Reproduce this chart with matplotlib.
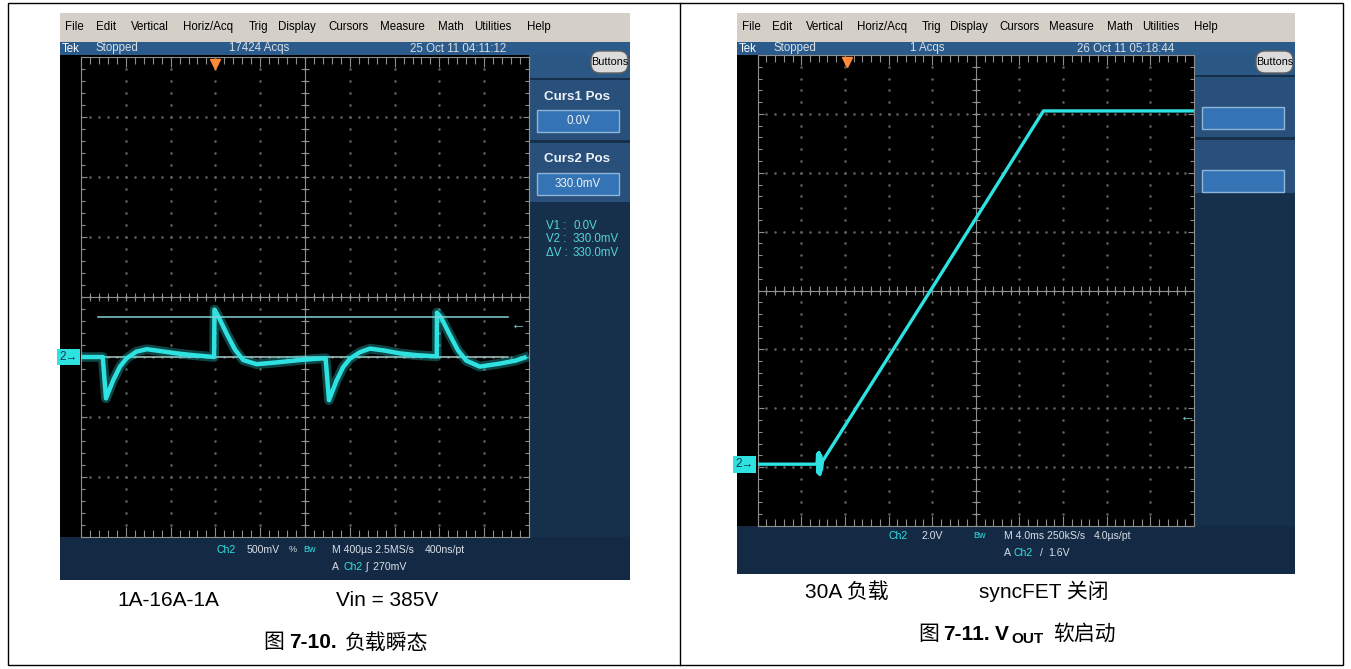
import numpy as np
import matplotlib.pyplot as plt
from matplotlib.patches import Rectangle, FancyBboxPatch

W, H = 1351, 669
UI = ['Liberation Sans Narrow', 'Liberation Sans', 'DejaVu Sans']
DOC = ['Liberation Sans', 'Noto Sans CJK SC']
CYAN = '#2fe2e2'

# fig 7-10 load transient: Ch2 500mV/div, 400us/div (time in us, volts)
load_t = [0, 194, 223, 289, 348, 408, 496, 588, 704, 856, 1004, 1188,
          1192, 1228, 1300, 1376, 1448, 1568, 1748, 1956, 2180,
          2184, 2214, 2280, 2340, 2400, 2490, 2580, 2700, 2850, 3000, 3176,
          3178, 3215, 3290, 3366, 3440, 3560, 3740, 3880, 3960]
load_v = [0.0, 0.0, -0.345, -0.19, -0.08, -0.01, 0.045, 0.065, 0.05, 0.03, 0.015, 0.0,
          0.395, 0.335, 0.195, 0.06, -0.025, -0.06, -0.045, -0.025, -0.01,
          -0.01, -0.36, -0.2, -0.085, -0.015, 0.04, 0.07, 0.055, 0.03, 0.015, 0.005,
          0.37, 0.33, 0.19, 0.055, -0.03, -0.08, -0.055, -0.03, -0.005]
load_cursors = [0.0, 0.33]
load_trig_v = 0.27
load_trig_t = 1196

# fig 7-11 Vout soft start: Ch2 2V/div, 4ms/div (time in ms, volts)
ss_t = [0, 5.45, 5.5, 5.55, 5.62, 5.7, 5.78, 5.85, 5.95, 15.8, 26.2, 40]
ss_v = [0.0, 0.0, 0.35, -0.3, 0.4, -0.35, 0.3, -0.2, 0.1, 5.87, 12.0, 12.0]
ss_trig_v = 1.6
ss_trig_t = 8.2

menu = ['File', 'Edit', 'Vertical', 'Horiz/Acq', 'Trig', 'Display',
        'Cursors', 'Measure', 'Math', 'Utilities', 'Help']
menu_pos = [0.025, 0.081, 0.158, 0.26, 0.349, 0.415, 0.506, 0.6, 0.686, 0.759, 0.84]

fig = plt.figure(figsize=(W / 100, H / 100), dpi=100)
bg = fig.add_axes([0, 0, 1, 1])
bg.set_xlim(0, W)
bg.set_ylim(H, 0)
bg.axis('off')


def box(x0, y0, x1, y1, fc, ec='none', lw=0, z=1):
    bg.add_patch(Rectangle((x0, y0), x1 - x0, y1 - y0, facecolor=fc,
                           edgecolor=ec, linewidth=lw, zorder=z))


def ui(x, y, s, ha='left', c='#d8dee6', size=8.3, **kw):
    bg.text(x, y, s, ha=ha, va='center', color=c, fontsize=size, family=UI, **kw)


def scope(x0, x1, grat, bottom, sections, status, boxes):
    gx0, gy0, gx1, gy1 = grat
    box(x0, 13, x1, 42, '#d4d0c8')
    box(x0, 42, x1, 55, '#2b5b8a')
    box(x0, 55, gx1, gy1, 'black')
    box(gx1, 55, x1, gy1, '#16304c')
    box(gx1, 55, x1, sections[0][0] - 2, '#2a5784')
    for s0, s1 in sections:
        box(gx1 + 1, s0, x1, s1, '#28507a')
    box(x0, gy1, x1, bottom, '#142a44')
    for m, p in zip(menu, menu_pos):
        ui(x0 + p * (x1 - x0), 27, m, ha='center', c='black')
    ui(x0 + 2, 48.5, 'Tek', c='white')
    ui(x0 + 36, 48.5, 'Stopped')
    ui(status[0], 48.5, status[1], ha='center')
    ui(status[2], 48.5, status[3], ha='center')
    bg.add_patch(FancyBboxPatch((x1 - 39, 51), 37, 22,
                                boxstyle='round,pad=0,rounding_size=9',
                                fc='#dcdcdc', ec='#606060', lw=1, zorder=3))
    ui(x1 - 20.5, 62, 'Buttons', ha='center', c='black', size=7.8, zorder=4)
    for (b0, b1), txt in zip([(s0 + 30, s0 + 52) for s0, s1 in sections], boxes):
        box(gx1 + 8, b0, x1 - 11, b1, '#3574b4', ec='#8fb4d8', lw=1, z=2)
        if txt:
            ui((gx1 + x1 - 3) / 2, (b0 + b1) / 2, txt, ha='center', c='#eef2f8', zorder=3)


def graticule(grat, xdiv, ydiv, ymid):
    gx0, gy0, gx1, gy1 = grat
    ax = fig.add_axes([gx0 / W, 1 - gy1 / H, (gx1 - gx0) / W, (gy1 - gy0) / H])
    ax.set_facecolor('black')
    ax.set_xlim(0, 10 * xdiv)
    ax.set_ylim(ymid - 4 * ydiv, ymid + 4 * ydiv)
    xs = np.arange(0, 51) * 0.2 * xdiv
    ys = ymid + np.arange(-20, 21) * 0.2 * ydiv
    xm = np.arange(1, 10) * xdiv
    ym = ymid + np.arange(-3, 4) * ydiv
    for a, b in [np.meshgrid(xm, ys), np.meshgrid(xs, ym)]:
        ax.plot(a.ravel(), b.ravel(), ls='none', marker='s', ms=0.8, color='#5e5e5e')
    g = '#8e8e8e'
    ax.axvline(5 * xdiv, color=g, lw=0.8)
    ax.axhline(ymid, color=g, lw=0.8)
    ax.vlines(xs, ymid - 0.07 * ydiv, ymid + 0.07 * ydiv, color=g, lw=0.8)
    ax.hlines(ys, 4.91 * xdiv, 5.09 * xdiv, color=g, lw=0.8)
    ax.set_xticks(np.arange(0, 11) * xdiv)
    ax.set_xticks(xs, minor=True)
    ax.set_yticks(ymid + np.arange(-4, 5) * ydiv)
    ax.set_yticks(ys, minor=True)
    ax.tick_params(which='both', direction='in', top=True, right=True,
                   labelbottom=False, labelleft=False, color=g, width=0.8)
    ax.tick_params(axis='x', which='major', length=7)
    ax.tick_params(axis='x', which='minor', length=5)
    ax.tick_params(axis='y', which='major', length=4)
    ax.tick_params(axis='y', which='minor', length=3)
    for s in ax.spines.values():
        s.set_color(g)
        s.set_linewidth(0.8)
    return ax


def markers(ax, trig_t, trig_v, arrow_x):
    ax.plot(trig_t, 0.985, marker='v', ms=7, color='#ff8a3a',
            transform=ax.get_xaxis_transform(), clip_on=False, zorder=6)
    ax.text(arrow_x, trig_v, '←', transform=ax.get_yaxis_transform(), ha='center',
            va='center', color='#7fd8d8', fontsize=11, family=UI)
    ax.text(-0.008, 0, '2→', transform=ax.get_yaxis_transform(), ha='right', va='center',
            color='#123650', fontsize=8.5, family=UI,
            bbox=dict(boxstyle='square,pad=0.2', fc=CYAN, ec='none'))


# ---- left scope ----
gl = (81, 57, 529, 537)
scope(60, 630, gl, 580, [(80, 140), (143, 202)], (259, '17424 Acqs', 458, '25 Oct 11 04:11:12'),
      ['0.0V', '330.0mV'])
ui(577, 97, 'Curs1 Pos', ha='center', c='#eef2f8', size=9.6, weight='bold')
ui(577, 159, 'Curs2 Pos', ha='center', c='#eef2f8', size=9.6, weight='bold')
for y, lab, val in [(226, 'V1 :', '0.0V'), (239.5, 'V2 :', '330.0mV'), (253, 'ΔV :', '330.0mV')]:
    ui(546, y, lab, c='#55d4d4')
    ui(573, y, val, c='#55d4d4')
bs = 7.6
ui(226, 550, 'Ch2', ha='center', c=CYAN, size=bs)
ui(263, 550, '500mV', ha='center', size=bs)
ui(293, 550, '%', ha='center', size=6.5)
ui(309.5, 550, 'Bw', ha='center', c=CYAN, size=6.5)
ui(332, 550, 'M 400µs 2.5MS/s', size=bs)
ui(425, 550, '400ns/pt', size=bs)
ui(332, 567.5, 'A', size=bs)
ui(343, 567.5, 'Ch2', c=CYAN, size=bs)
ui(366, 567.5, 'ʃ  270mV', size=bs)

axl = graticule(gl, 400, 0.5, 0.5)
axl.axhline(load_cursors[0], 0.039, 0.953, color='#a8c8c8', lw=1.1, zorder=3)
axl.plot(load_t, load_v, color=CYAN, lw=7, alpha=0.3, solid_joinstyle='round', zorder=4)
axl.plot(load_t, load_v, color=CYAN, lw=3.2, solid_joinstyle='round', zorder=5)
axl.axhline(load_cursors[1], 0.039, 0.953, color='#86d2d2', lw=1.1, zorder=6)
markers(axl, load_trig_t, load_trig_v, 0.976)

# ---- right scope ----
gr = (757.6, 55, 1194, 526)
scope(737, 1295, gr, 574, [(77, 137), (140, 193)], (927, '1 Acqs', 1126, '26 Oct 11 05:18:44'),
      ['', ''])
ui(898, 536, 'Ch2', ha='center', c=CYAN, size=bs)
ui(932, 536, '2.0V', ha='center', size=bs)
ui(979, 536, 'Bw', ha='center', c=CYAN, size=6.5)
ui(1003.5, 536, 'M 4.0ms 250kS/s', size=bs)
ui(1094, 536, '4.0µs/pt', size=bs)
ui(1003.5, 553, 'A', size=bs)
ui(1013, 553, 'Ch2', c=CYAN, size=bs)
ui(1040, 553, '/', size=bs)
ui(1048, 553, '1.6V', size=bs)

axr = graticule(gr, 4, 2.0, 5.9)
axr.plot(ss_t, ss_v, color=CYAN, lw=2.4, solid_joinstyle='round', zorder=5)
markers(axr, ss_trig_t, ss_trig_v, 0.986)

# ---- table frame and captions ----
bg.add_patch(Rectangle((8, 3), 1335, 662, fill=False, ec='black', lw=1, zorder=0))
bg.plot([680, 680], [3, 665], color='black', lw=1, zorder=0)


def cap(x, y, s, size=15, weight='normal'):
    bg.text(x, y, s, ha='left', va='baseline', fontsize=size, weight=weight,
            family=DOC, color='black')


cap(117, 606.5, '1A-16A-1A')
cap(336, 606.5, 'Vin = 385V')
cap(263, 648.5, '图')
cap(289.5, 648.5, '7-10.', weight='bold')
cap(345, 648.5, '负载瞬态')
cap(805, 598, '30A 负载')
cap(979, 598, 'syncFET 关闭')
cap(918, 639.5, '图')
cap(943, 639.5, '7-11.', weight='bold')
cap(995, 639.5, 'V', weight='bold')
cap(1011, 643, 'OUT', size=11, weight='bold')
cap(1053, 639.5, '软启动')

fig.savefig('out.png', dpi=100, facecolor='white')
